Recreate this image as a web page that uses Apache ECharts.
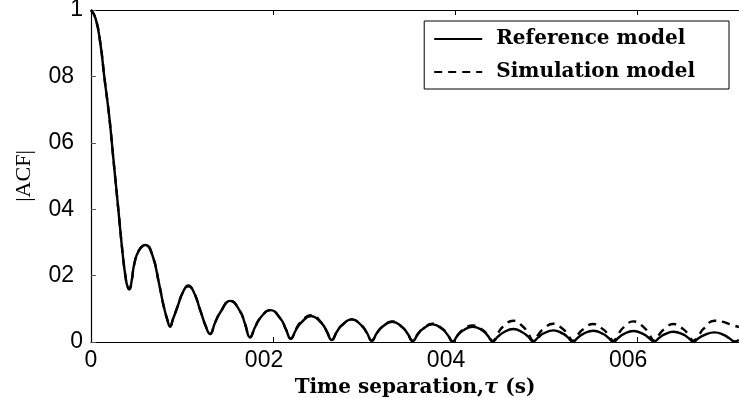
<!DOCTYPE html>
<html>
<head>
<meta charset="utf-8">
<script src="https://cdn.jsdelivr.net/npm/echarts@6/dist/echarts.min.js"></script>
<style>
  html, body { margin: 0; padding: 0; background: #fff; }
  #chart { width: 739px; height: 398px; }
</style>
</head>
<body>
<div id="chart"></div>
<script>
// Time separation tau (s)
const tau = [
  0, 0.0005, 0.001, 0.0015, 0.002, 0.0025, 0.003, 0.0035, 0.0038, 0.004, 0.0042, 0.0045, 0.00473, 0.00527, 0.006, 0.00674, 0.00747, 0.008, 0.0084, 0.00868,
  0.0090, 0.0095, 0.0101, 0.0107, 0.0113, 0.0120, 0.0126, 0.01308,
  0.01363, 0.01418, 0.0153, 0.01637, 0.01692, 0.01747,
  0.01803, 0.01859, 0.0197, 0.02083, 0.02139, 0.02195,
  0.02251, 0.02308, 0.0242, 0.02533, 0.02589, 0.02645,
  0.027, 0.02755, 0.02865, 0.02975, 0.0303, 0.03085,
  0.03141, 0.03198, 0.0331, 0.03423, 0.03479, 0.03535,
  0.0359, 0.03645, 0.03754, 0.03864, 0.03919, 0.03974,
  0.04029, 0.04084, 0.04194, 0.04304, 0.04359, 0.04414,
  0.0447, 0.04526, 0.0464, 0.04748, 0.04804, 0.0486,
  0.04914, 0.04968, 0.0508, 0.05185, 0.0524, 0.05293,
  0.05349, 0.05405, 0.0552, 0.05628, 0.05684, 0.0574,
  0.05796, 0.05852, 0.0596, 0.06075, 0.06131, 0.06187,
  0.06241, 0.06295, 0.064, 0.06511, 0.06565, 0.06619,
  0.06675, 0.06732, 0.0685, 0.06957, 0.07013, 0.0707, 0.0712
];

// |ACF| of the reference model
const refAcf = [
  1.0, 0.975, 0.905, 0.79, 0.68, 0.54, 0.40, 0.26, 0.195, 0.168, 0.159, 0.19, 0.232, 0.276, 0.292, 0.262, 0.177, 0.106, 0.066, 0.046,
  0.068, 0.106, 0.150, 0.170, 0.150, 0.096, 0.048, 0.024,
  0.058, 0.088, 0.124, 0.093, 0.055, 0.014,
  0.045, 0.072, 0.096, 0.07, 0.04, 0.010,
  0.036, 0.058, 0.078, 0.057, 0.033, 0.006,
  0.03, 0.05, 0.068, 0.049, 0.028, 0.004,
  0.027, 0.045, 0.061, 0.044, 0.025, 0.003,
  0.023, 0.039, 0.053, 0.038, 0.021, 0.002,
  0.02, 0.034, 0.046, 0.034, 0.019, 0.002,
  0.016, 0.028, 0.039, 0.028, 0.016, 0.002,
  0.014, 0.025, 0.035, 0.025, 0.014, 0.001,
  0.013, 0.024, 0.034, 0.024, 0.013, 0.001,
  0.013, 0.024, 0.033, 0.023, 0.012, 0.001,
  0.012, 0.022, 0.031, 0.022, 0.012, 0.001,
  0.011, 0.020, 0.029, 0.021, 0.011, 0.002, 0.006
];

// |ACF| of the simulation model
const simAcf = [
  1.0, 0.975, 0.905, 0.79, 0.68, 0.54, 0.40, 0.26, 0.195, 0.168, 0.159, 0.19, 0.232, 0.276, 0.292, 0.262, 0.177, 0.106, 0.066, 0.046,
  0.068, 0.106, 0.150, 0.168, 0.150, 0.096, 0.048, 0.024,
  0.058, 0.088, 0.124, 0.093, 0.055, 0.014,
  0.045, 0.072, 0.096, 0.07, 0.04, 0.010,
  0.038, 0.061, 0.081, 0.058, 0.033, 0.006,
  0.03, 0.05, 0.068, 0.049, 0.028, 0.004,
  0.027, 0.045, 0.062, 0.044, 0.025, 0.003,
  0.024, 0.04, 0.055, 0.039, 0.022, 0.002,
  0.021, 0.036, 0.05, 0.036, 0.021, 0.003,
  0.026, 0.046, 0.064, 0.046, 0.026, 0.004,
  0.022, 0.039, 0.055, 0.039, 0.022, 0.004,
  0.022, 0.038, 0.054, 0.038, 0.022, 0.004,
  0.025, 0.044, 0.062, 0.044, 0.025, 0.004,
  0.022, 0.038, 0.054, 0.038, 0.022, 0.004,
  0.02, 0.04, 0.064, 0.060, 0.054, 0.049, 0.045
];

const xTicks = [0, 0.02, 0.04, 0.06];
const yTicks = [0, 0.2, 0.4, 0.6, 0.8, 1];
const xMax = 0.0712;

const seriesNames = ['Reference model', 'Simulation model'];
const axisTitleX = 'Time separation,';
const axisTitleY = '|ACF|';

// Tick labels are printed without the decimal point, e.g. "08", "002"
function tickText(v) {
  if (v === 0) return '0';
  if (v === 1) return '1';
  return String(v).replace('.', '');
}

const refPoints = tau.map((t, i) => [t, refAcf[i]]);
const simPoints = tau.map((t, i) => [t, simAcf[i]]);

const tickFont = { fontFamily: 'Liberation Sans', fontSize: 23, color: '#000' };
const serifBold = { fontFamily: 'DejaVu Serif', fontWeight: 'bold', fontSize: 20, color: '#000' };

const chart = echarts.init(document.getElementById('chart'), null, { renderer: 'canvas' });
chart.setOption({
  animation: false,
  backgroundColor: '#fff',
  grid: { left: 91, right: 0, top: 10, bottom: 56, show: false, outerBoundsMode: 'none', containLabel: false },
  legend: {
    orient: 'vertical',
    right: 10, top: 21,
    itemWidth: 48, itemHeight: 20, itemGap: 13,
    padding: [8, 34, 7, 9],
    borderColor: '#000', borderWidth: 1, backgroundColor: '#fff', borderRadius: 0,
    itemStyle: { opacity: 0 },
    textStyle: Object.assign({}, serifBold, { padding: [0, 0, 0, 9] }),
    data: seriesNames
  },
  xAxis: [{
    type: 'value', min: 0, max: xMax, interval: 0.02,
    axisLine: { show: true, lineStyle: { color: '#000', width: 1.2 } },
    axisTick: { show: true, inside: true, length: 5, lineStyle: { color: '#000' } },
    splitLine: { show: false },
    axisLabel: {
      show: true, margin: 7, showMaxLabel: false,
      formatter: v => {
        if (!xTicks.some(t => Math.abs(t - v) < 1e-9)) return '';
        const s = tickText(+v.toFixed(2));
        return s.length > 1 ? '{s|' + s + '}' : s;
      },
      rich: { s: Object.assign({}, tickFont, { padding: [0, 18, 0, 0] }) },
      ...tickFont
    },
    name: '{b|' + axisTitleX + '}{t|τ}{b| (s)}',
    nameLocation: 'middle', nameGap: 29,
    nameTextStyle: {
      rich: {
        b: serifBold,
        t: { fontFamily: 'DejaVu Serif', fontStyle: 'italic', fontWeight: 'bold', fontSize: 21, color: '#000' }
      }
    }
  }, {
    type: 'value', position: 'top', min: 0, max: xMax, interval: 0.02,
    axisLine: { show: true, lineStyle: { color: '#000', width: 1.2 } },
    axisTick: { show: true, inside: true, length: 5, lineStyle: { color: '#000' } },
    axisLabel: { show: false }, splitLine: { show: false }
  }],
  yAxis: {
    type: 'value', min: 0, max: 1, interval: 0.2,
    axisLine: { show: true, lineStyle: { color: '#000', width: 1.2 } },
    axisTick: { show: true, inside: true, length: 5, lineStyle: { color: '#555' } },
    splitLine: { show: false },
    axisLabel: {
      margin: 8,
      formatter: v => {
        const s = tickText(+v.toFixed(1));
        return s.length > 1 ? '{s|' + s + '}' : s;
      },
      rich: { s: Object.assign({}, tickFont, { padding: [0, 9, 0, 0] }) },
      ...tickFont
    },
    name: axisTitleY, nameLocation: 'middle', nameGap: 56, nameRotate: 90,
    nameTextStyle: { fontFamily: 'Liberation Serif', fontSize: 22, color: '#000' }
  },
  series: [{
    name: seriesNames[0], type: 'line', data: refPoints,
    showSymbol: false, symbol: 'none', smooth: 0.5,
    lineStyle: { color: '#000', width: 2.4, type: 'solid' },
    itemStyle: { color: '#000' }, z: 3
  }, {
    name: seriesNames[1], type: 'line', data: simPoints,
    showSymbol: false, symbol: 'none', smooth: 0.5,
    lineStyle: { color: '#000', width: 2.4, type: [8, 6] },
    itemStyle: { color: '#000' }, z: 2
  }]
});
</script>
</body>
</html>
